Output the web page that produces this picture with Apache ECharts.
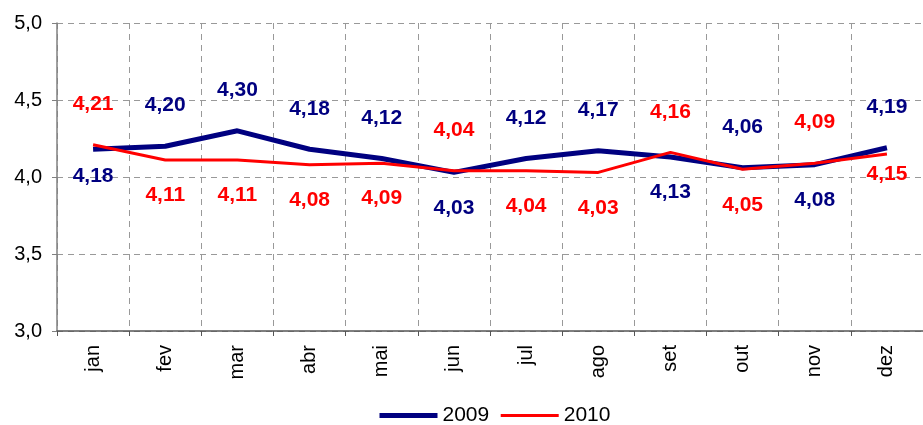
<!DOCTYPE html>
<html lang="pt">

<head>
    <meta charset="UTF-8">
    <title>2009 x 2010</title>
    <script src="https://cdn.jsdelivr.net/npm/echarts@6.0.0/dist/echarts.min.js"></script>
    <style>
        body { margin: 0; background: #fff; }
        #chart { width: 923px; height: 425px; }
    </style>
</head>

<body>
    <div id="chart"></div>
    <script>
        var months = ['jan', 'fev', 'mar', 'abr', 'mai', 'jun', 'jul', 'ago', 'set', 'out', 'nov', 'dez'];
        var values2009 = [4.18, 4.20, 4.30, 4.18, 4.12, 4.03, 4.12, 4.17, 4.13, 4.06, 4.08, 4.19];
        var values2010 = [4.21, 4.11, 4.11, 4.08, 4.09, 4.04, 4.04, 4.03, 4.16, 4.05, 4.09, 4.15];
        // where each data label sits (t = above, b = below)
        var pos2009 = ['b', 't', 't', 't', 't', 'b', 't', 't', 'b', 't', 'b', 't'];
        var pos2010 = ['t', 'b', 'b', 'b', 'b', 't', 'b', 'b', 't', 'b', 't', 'b'];

        var fmt = function (v) { return v.toFixed(2).replace('.', ','); };

        function buildData(values, pos) {
            return values.map(function (v, i) {
                var top = pos[i] === 't';
                var dist = top ? 30 : 25;
                if (!top && i === 0) dist = 16;
                if (!top && i === values.length - 1) dist = 10;
                return {
                    value: v,
                    label: { position: top ? 'top' : 'bottom', distance: dist }
                };
            });
        }

        var myChart = echarts.init(document.getElementById('chart'));

        var labelBase = {
            show: true,
            fontFamily: 'Arial, "Liberation Sans", sans-serif',
            fontSize: 21,
            fontWeight: 'bold',
            formatter: function (p) { return fmt(p.value); }
        };

        var option = {
            animation: false,
            textStyle: { fontFamily: 'Arial, "Liberation Sans", sans-serif' },
            grid: { left: 57, right: -7, top: 23, bottom: 94 },
            legend: {
                left: 372,
                top: 400,
                itemWidth: 58,
                itemHeight: 14,
                itemGap: 10,
                itemStyle: { opacity: 0 },
                textStyle: { fontSize: 21, color: '#000' },
                data: [
                    { name: '2009', lineStyle: { width: 5 } },
                    { name: '2010', lineStyle: { width: 3 } }
                ]
            },
            xAxis: {
                type: 'category',
                data: months,
                boundaryGap: true,
                axisLine: { lineStyle: { color: '#555', width: 1.5 } },
                axisTick: { show: true, length: 5, lineStyle: { color: '#555' } },
                axisLabel: { rotate: 90, color: '#000', fontSize: 20, margin: 14 },
                splitLine: { show: true, interval: 0, lineStyle: { color: '#999', type: [6, 5] } }
            },
            yAxis: {
                type: 'value',
                min: 3,
                max: 5,
                interval: 0.5,
                axisLine: { show: true, lineStyle: { color: '#808080', width: 1.5 } },
                axisTick: { show: true, length: 5, lineStyle: { color: '#808080' } },
                axisLabel: {
                    color: '#000', fontSize: 20, margin: 15,
                    formatter: function (v) { return v.toFixed(1).replace('.', ','); }
                },
                splitLine: { show: true, lineStyle: { color: '#999', type: [6, 5] } }
            },
            series: [
                {
                    name: '2009',
                    type: 'line',
                    data: buildData(values2009, pos2009),
                    symbol: 'circle',
                    symbolSize: 0.1,
                    color: '#000080',
                    lineStyle: { color: '#000080', width: 5 },
                    label: Object.assign({ color: '#000080' }, labelBase)
                },
                {
                    name: '2010',
                    type: 'line',
                    data: buildData(values2010, pos2010),
                    symbol: 'circle',
                    symbolSize: 0.1,
                    color: '#ff0000',
                    lineStyle: { color: '#ff0000', width: 3 },
                    label: Object.assign({ color: '#ff0000' }, labelBase)
                }
            ]
        };

        myChart.setOption(option);
    </script>
</body>

</html>
